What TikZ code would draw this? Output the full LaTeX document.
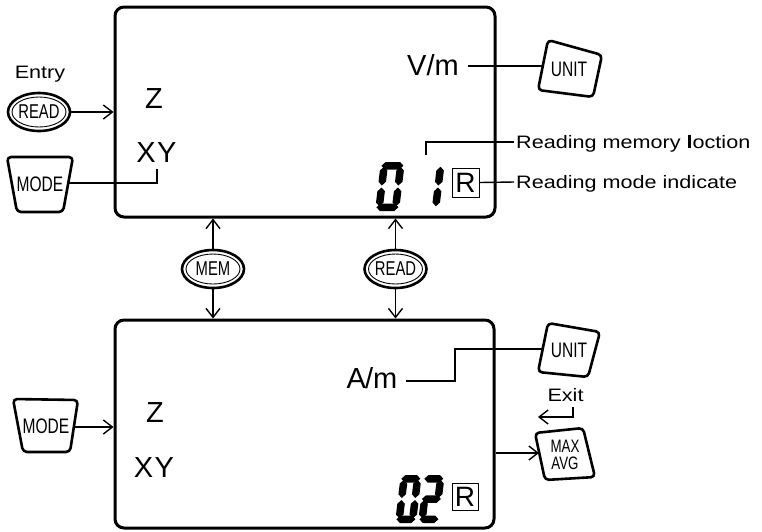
\documentclass[tikz,border=0pt]{standalone}
\usepackage{fontspec}
\setmainfont{Liberation Sans}
\newfontfamily\narrowfont[FakeStretch=0.74]{Liberation Sans}
\newfontfamily\widefont[FakeStretch=1.2]{Liberation Sans}
\usetikzlibrary{arrows.meta,shapes.geometric,calc}
\newcommand\bigf{\fontsize{29}{30}\selectfont}
\newcommand\lblf{\widefont\fontsize{18}{19}\selectfont}
\newcommand\keyf{\narrowfont\fontsize{21}{22}\selectfont}
\newcommand\ellf{\narrowfont\fontsize{20}{21}\selectfont}
\newcommand\smkeyf{\narrowfont\fontsize{18}{19}\selectfont}
\newcommand\rf{\fontsize{28}{29}\selectfont}
\newcommand\hseg[3]{\fill (#1+1,#3) -- (#1+1+\dt/2,#3-\dt/2) -- (#2-1-\dt/2,#3-\dt/2) -- (#2-1,#3) -- (#2-1-\dt/2,#3+\dt/2) -- (#1+1+\dt/2,#3+\dt/2) -- cycle;}
\newcommand\vseg[3]{\fill (#1,#2+1) -- (#1+\dt/2,#2+1+\dt/2) -- (#1+\dt/2,#3-1-\dt/2) -- (#1,#3-1) -- (#1-\dt/2,#3-1-\dt/2) -- (#1-\dt/2,#2+1+\dt/2) -- cycle;}
\newcommand\segA{\hseg{0}{\dW}{-\dH+\dt/2}}
\newcommand\segG{\hseg{0}{\dW}{-\dH/2}}
\newcommand\segD{\hseg{0}{\dW}{-\dt/2}}
\newcommand\segF{\vseg{\dt/2}{-\dH+\dt/2}{-\dH/2}}
\newcommand\segB{\vseg{\dW-\dt/2}{-\dH+\dt/2}{-\dH/2}}
\newcommand\segE{\vseg{\dt/2}{-\dH/2}{-\dt/2}}
\newcommand\segC{\vseg{\dW-\dt/2}{-\dH/2}{-\dt/2}}
\newcommand\sevdigit[3]{\begin{scope}[shift={(#1,#2)},xslant=0.12] #3 \end{scope}}
\newcommand\ellkey[3]{\node[ellk] (#1) at (#2) {#3}; \draw[line width=0.9pt] (#1.center) ellipse [x radius=27pt, y radius=15pt];}
\begin{document}
\begin{tikzpicture}[x=1pt,y=-1pt,
  lcd/.style={draw, line width=3pt, rounded corners=9pt, inner sep=0pt},
  keyshape/.style={line width=2.6pt, rounded corners=4pt, line join=round},
  conn/.style={line width=1.4pt},
  arr/.style={conn, -{Straight Barb[length=9pt,width=14pt]}},
  txt/.style={inner sep=0pt, anchor=base},
  ellk/.style={ellipse, draw, line width=2.6pt, inner sep=0pt, minimum width=62pt, minimum height=38pt, font=\ellf},
  keytxt/.style={inner sep=0pt, font=\keyf},
  rbox/.style={draw, line width=1pt, inner sep=0pt, font=\rf}]
\useasboundingbox (0,0) rectangle (762,531);
% LCD panels
\node[lcd, minimum width=380pt, minimum height=210pt] (lcd1) at (305,112) {};
\node[lcd, minimum width=379pt, minimum height=208pt] (lcd2) at (304.5,424) {};
% top panel texts
\node[txt,font=\bigf] (z1) at (154,108) {Z};
\node[txt,font=\bigf] (xy1) at (156.5,162) {X\kern1.5pt Y};
\node[txt,font=\bigf] (vm) at (433,75) {V/m};
\node[rbox, minimum width=27pt, minimum height=29pt] (r1) at (465.5,182.5) {R};
\def\dW{24}\def\dH{49}\def\dt{7.5}
\sevdigit{375}{211}{\segA\segB\segC\segD\segE\segF}
\sevdigit{415}{211}{\segB\segC}
% bottom panel texts
\node[txt,font=\bigf] (z2) at (155,422) {Z};
\node[txt,font=\bigf] (xy2) at (154,477) {X\kern1.5pt Y};
\node[txt,font=\bigf] (am) at (372,388) {A\kern-1pt/m};
\node[rbox, minimum width=26pt, minimum height=27pt] (r2) at (465,496.5) {R};
\def\dW{21}\def\dH{48}\def\dt{7.5}
\sevdigit{395}{523}{\segA\segB\segC\segD\segE\segF}
\sevdigit{418}{523}{\segA\segB\segG\segE\segD}
% labels
\node[txt,font=\lblf] (entry) at (40,78) {Entry};
\node[txt,font=\lblf] (exit) at (565.5,401) {Exit};
\node[txt,anchor=base west,font=\lblf] (lmem) at (516,148) {Reading memory \textbf{l}oction};
\node[txt,anchor=base west,font=\lblf] (lmode) at (516,188) {Reading mode indicate};
% ellipse keys
\ellkey{read1}{39,112}{READ}
\ellkey{mem}{213,269}{MEM}
\ellkey{read2}{395.5,269}{READ}
% MODE keys
\draw[keyshape] (7,157) -- (73,157) -- (63,212) -- (17,212) -- cycle;
\node[keytxt] (mode1) at (40,184) {MODE};
\draw[keyshape] (13,399) -- (78,400) -- (70,452) -- (23,452) -- cycle;
\node[keytxt] (mode2) at (46,426) {MODE};
% UNIT keys
\draw[keyshape] (548,40) -- (602,55) -- (593,97) -- (538,90) -- cycle;
\node[keytxt] (unit1) at (569,69) {UNIT};
\draw[keyshape] (548,323) -- (600,332) -- (588,377) -- (538,372) -- cycle;
\node[keytxt] (unit2) at (569,350) {UNIT};
% MAX AVG key
\draw[keyshape] (535,433) -- (583,428) -- (595,477) -- (545,480) -- cycle;
\node[inner sep=0pt, font=\smkeyf, align=center] (maxavg) at (565,455) {MAX\\[-2pt]AVG};
% connector end points
\coordinate (mode1e) at (68,183);
\coordinate (xy1m) at (157,169);
\coordinate (vme) at (468,66);
\coordinate (unit1w) at (542.8,66);
\coordinate (memloc) at (426,155);
\coordinate (lmemw) at (514,142);
\coordinate (lmodew) at (514,182);
\coordinate (ame) at (406,381);
\coordinate (amstep) at (455,381);
\coordinate (unit2w) at (542.7,349);
\coordinate (mode2e) at (74,427);
\coordinate (maxw) at (539,453);
\coordinate (exits) at (573,407);
\coordinate (exitw) at (538,417);
% connectors
\draw[arr] (read1.east) -- (read1.east -| lcd1.west);
\draw[conn] (mode1e) -| (xy1m);
\draw[conn] (vme) -- (unit1w);
\draw[conn] (memloc) |- (lmemw);
\draw[conn] (r1.east) -- (lmodew);
\draw[arr] (mem.north) -- (mem.north |- lcd1.south);
\draw[arr] (mem.south) -- (mem.south |- lcd2.north);
\draw[arr] (read2.north) -- (read2.north |- lcd1.south);
\draw[arr] (read2.south) -- (read2.south |- lcd2.north);
\draw[conn] (ame) -- (amstep) |- (unit2w);
\draw[arr] (mode2e) -- (mode2e -| lcd2.west);
\draw[arr] (maxw -| lcd2.east) -- (maxw);
\draw[arr] (exits) |- (exitw);
\end{tikzpicture}
\end{document}
